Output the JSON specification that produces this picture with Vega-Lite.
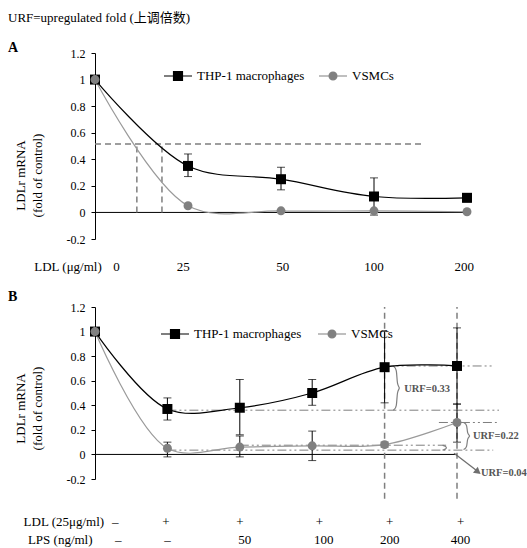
{
  "$schema": "https://vega.github.io/schema/vega-lite/v6.json",
  "padding": {"left": 8, "top": 12, "right": 0, "bottom": 0},
  "config": {
    "view": {"stroke": null},
    "font": "Liberation Serif",
    "axisY": {"labelExpr": "replace(format(datum.value, '.1~f'), '\u2212', '-')", "tickCount": 7, "labelFont": "Liberation Serif", "labelFontSize": 12, "labelColor": "#000", "tickColor": "#000", "domainColor": "#000", "tickSize": 4, "labelPadding": 6, "titleFont": "Liberation Serif", "titleFontSize": 13, "titleFontWeight": "normal", "titleColor": "#000", "titlePadding": 22, "grid": false, "titleLineHeight": 17, "labelFlush": false, "labelOverlap": false},
    "legend": {"title": null, "orient": "none", "direction": "horizontal", "padding": 0, "labelOffset": 4, "symbolSize": 784, "symbolStrokeWidth": 1.2, "labelFont": "Liberation Serif", "labelFontSize": 13, "labelColor": "#000", "labelLimit": 0}
  },
  "title": {"text": "URF=upregulated fold (上调倍数)", "anchor": "start", "frame": "bounds", "font": "Liberation Serif, Noto Sans CJK SC", "fontSize": 13, "fontWeight": "normal", "color": "#000", "offset": 16},
  "spacing": 16,
  "resolve": {"scale": {"color": "independent", "fill": "independent", "x": "independent", "y": "independent"}, "legend": {"color": "independent", "fill": "independent"}},
  "datasets": {
    "A": [
      {"x": 0, "series": "THP-1 macrophages", "y": 1},
      {"x": 1, "series": "THP-1 macrophages", "y": 0.35, "lo": 0.27, "hi": 0.44},
      {"x": 2, "series": "THP-1 macrophages", "y": 0.25, "lo": 0.17, "hi": 0.34},
      {"x": 3, "series": "THP-1 macrophages", "y": 0.12, "lo": -0.02, "hi": 0.26},
      {"x": 4, "series": "THP-1 macrophages", "y": 0.11, "lo": 0.08, "hi": 0.14},
      {"x": 0, "series": "VSMCs", "y": 1},
      {"x": 1, "series": "VSMCs", "y": 0.05},
      {"x": 2, "series": "VSMCs", "y": 0.012},
      {"x": 3, "series": "VSMCs", "y": 0.012},
      {"x": 4, "series": "VSMCs", "y": 0.005}
    ],
    "B": [
      {"x": 0, "series": "THP-1 macrophages", "y": 1},
      {"x": 1, "series": "THP-1 macrophages", "y": 0.37, "lo": 0.28, "hi": 0.46},
      {"x": 2, "series": "THP-1 macrophages", "y": 0.38, "lo": 0.16, "hi": 0.61},
      {"x": 3, "series": "THP-1 macrophages", "y": 0.5, "lo": 0.4, "hi": 0.61},
      {"x": 4, "series": "THP-1 macrophages", "y": 0.71, "lo": 0.42, "hi": 1.0},
      {"x": 5, "series": "THP-1 macrophages", "y": 0.72, "lo": 0.41, "hi": 1.03},
      {"x": 0, "series": "VSMCs", "y": 1},
      {"x": 1, "series": "VSMCs", "y": 0.05, "lo": -0.02, "hi": 0.1},
      {"x": 2, "series": "VSMCs", "y": 0.06, "lo": -0.02, "hi": 0.15},
      {"x": 3, "series": "VSMCs", "y": 0.07, "lo": -0.05, "hi": 0.19},
      {"x": 4, "series": "VSMCs", "y": 0.08, "lo": 0.06, "hi": 0.1},
      {"x": 5, "series": "VSMCs", "y": 0.26, "lo": 0.1, "hi": 0.41}
    ]
  },
  "vconcat": [
    {
      "width": 372,
      "height": 186,
      "title": {"text": "A", "anchor": "start", "frame": "bounds", "fontSize": 14, "fontWeight": "bold", "color": "#000", "offset": -8, "dx": -6},
      "data": {"name": "A"},
      "layer": [
        {
          "data": {"values": [{"x": 0, "x2": 4, "y": 0}]},
          "mark": {"type": "rule", "color": "#000", "strokeWidth": 1},
          "encoding": {
            "x": {"field": "x", "type": "quantitative", "scale": {"domain": [0, 4], "nice": false, "zero": false}, "axis": null},
            "x2": {"field": "x2"},
            "y": {"field": "y", "type": "quantitative", "scale": {"domain": [-0.2, 1.2], "nice": false, "zero": false}, "title": ["LDLr mRNA", "(fold of control)"], "axis": {"titleY": 122}}
          }
        },
        {
          "data": {"values": [{"x": 0, "x2": 3.53, "y": 0.515, "y2": 0.515}, {"x": 0.45, "x2": 0.45, "y": 0, "y2": 0.515}, {"x": 0.72, "x2": 0.72, "y": 0, "y2": 0.515}]},
          "mark": {"type": "rule", "color": "#7f7f7f", "strokeDash": [6, 4], "strokeWidth": 1.5},
          "encoding": {
            "x": {"field": "x", "type": "quantitative", "scale": {"domain": [0, 4], "nice": false, "zero": false}, "axis": null},
            "x2": {"field": "x2"},
            "y": {"field": "y", "type": "quantitative", "scale": {"domain": [-0.2, 1.2], "nice": false, "zero": false}, "title": ["LDLr mRNA", "(fold of control)"]},
            "y2": {"field": "y2"}
          }
        },
        {
          "transform": [{"filter": "isValid(datum.lo)"}],
          "mark": {"type": "errorbar", "ticks": {"size": 8, "color": "#000"}, "color": "#000", "thickness": 1},
          "encoding": {
            "x": {"field": "x", "type": "quantitative", "scale": {"domain": [0, 4], "nice": false, "zero": false}, "axis": null},
            "y": {"field": "lo", "type": "quantitative", "scale": {"domain": [-0.2, 1.2], "nice": false, "zero": false}, "title": ["LDLr mRNA", "(fold of control)"]},
            "y2": {"field": "hi"}
          }
        },
        {
          "mark": {"type": "line", "interpolate": "catmull-rom", "strokeWidth": 1.2},
          "encoding": {
            "x": {"field": "x", "type": "quantitative", "scale": {"domain": [0, 4], "nice": false, "zero": false}, "axis": null},
            "y": {"field": "y", "type": "quantitative", "scale": {"domain": [-0.2, 1.2], "nice": false, "zero": false}, "title": ["LDLr mRNA", "(fold of control)"]},
            "detail": {"field": "series"},
            "color": {"condition": {"test": "datum.series === 'VSMCs'", "value": "#9a9a9a"}, "value": "#000"}
          }
        },
        {
          "transform": [{"filter": "datum.series === 'THP-1 macrophages'"}],
          "mark": {"type": "point", "shape": "square", "filled": true, "opacity": 1, "size": 100},
          "encoding": {
            "x": {"field": "x", "type": "quantitative", "scale": {"domain": [0, 4], "nice": false, "zero": false}, "axis": null},
            "y": {"field": "y", "type": "quantitative", "scale": {"domain": [-0.2, 1.2], "nice": false, "zero": false}, "title": ["LDLr mRNA", "(fold of control)"]},
            "color": {"field": "series", "type": "nominal", "scale": {"domain": ["THP-1 macrophages"], "range": ["#000000"]},
              "legend": {"legendX": 68, "legendY": 8, "symbolType": "M-1,0H1M-0.32,-0.32H0.32V0.32H-0.32Z", "symbolStrokeColor": "#000000", "symbolFillColor": "#000000"}}
          }
        },
        {
          "transform": [{"filter": "datum.series === 'VSMCs'"}],
          "mark": {"type": "point", "shape": "circle", "filled": true, "opacity": 1, "size": 80},
          "encoding": {
            "x": {"field": "x", "type": "quantitative", "scale": {"domain": [0, 4], "nice": false, "zero": false}, "axis": null},
            "y": {"field": "y", "type": "quantitative", "scale": {"domain": [-0.2, 1.2], "nice": false, "zero": false}, "title": ["LDLr mRNA", "(fold of control)"]},
            "fill": {"field": "series", "type": "nominal", "scale": {"domain": ["VSMCs"], "range": ["#808080"]},
              "legend": {"legendX": 223, "legendY": 8, "symbolType": "M-1,0H1M-0.28,0A0.28,0.28,0,1,0,0.28,0A0.28,0.28,0,1,0,-0.28,0Z", "symbolStrokeColor": "#808080", "symbolFillColor": "#808080"}}
          }
        },
        {
          "data": {"values": [{"x": -0.29, "t": "LDL (μg/ml)"}, {"x": 0.23, "t": "0"}, {"x": 0.95, "t": "25"}, {"x": 2.02, "t": "50"}, {"x": 3.0, "t": "100"}, {"x": 3.97, "t": "200"}]},
          "mark": {"type": "text", "fontSize": 13, "color": "#000", "baseline": "middle", "align": "center"},
          "encoding": {
            "x": {"field": "x", "type": "quantitative", "scale": {"domain": [0, 4], "nice": false, "zero": false}, "axis": null},
            "y": {"datum": -0.41, "type": "quantitative", "scale": {"domain": [-0.2, 1.2], "nice": false, "zero": false}, "title": ["LDLr mRNA", "(fold of control)"]},
            "text": {"field": "t"}
          }
        }
      ]
    },
    {
      "width": 362,
      "height": 172,
      "title": {"text": "B", "anchor": "start", "frame": "bounds", "fontSize": 14, "fontWeight": "bold", "color": "#000", "offset": -3, "dx": -6},
      "data": {"name": "B"},
      "layer": [
        {
          "data": {"values": [{"x": 0, "x2": 5, "y": 0}]},
          "mark": {"type": "rule", "color": "#000", "strokeWidth": 1},
          "encoding": {
            "x": {"field": "x", "type": "quantitative", "scale": {"domain": [0, 5], "nice": false, "zero": false}, "axis": null},
            "x2": {"field": "x2"},
            "y": {"field": "y", "type": "quantitative", "scale": {"domain": [-0.2, 1.2], "nice": false, "zero": false}, "title": ["LDLr mRNA", "(fold of control)"], "axis": {"titleY": 101}}
          }
        },
        {
          "data": {"values": [{"x": 4, "x2": 4, "y": -0.36, "y2": 1.2}, {"x": 5, "x2": 5, "y": -0.36, "y2": 1.2}]},
          "mark": {"type": "rule", "color": "#7f7f7f", "strokeDash": [6, 4], "strokeWidth": 1.5},
          "encoding": {
            "x": {"field": "x", "type": "quantitative", "scale": {"domain": [0, 5], "nice": false, "zero": false}, "axis": null},
            "x2": {"field": "x2"},
            "y": {"field": "y", "type": "quantitative", "scale": {"domain": [-0.2, 1.2], "nice": false, "zero": false}, "title": ["LDLr mRNA", "(fold of control)"]},
            "y2": {"field": "y2"}
          }
        },
        {
          "data": {"values": [{"x": 1, "x2": 5.58, "y": 0.36, "y2": 0.36}, {"x": 4, "x2": 5.48, "y": 0.72, "y2": 0.72}, {"x": 4.75, "x2": 5.55, "y": 0.26, "y2": 0.26}, {"x": 1, "x2": 5.5, "y": 0.035, "y2": 0.035}, {"x": 2, "x2": 4.85, "y": 0.075, "y2": 0.075}]},
          "mark": {"type": "rule", "color": "#7f7f7f", "strokeDash": [9, 3, 2, 3, 2, 3], "strokeWidth": 1},
          "encoding": {
            "x": {"field": "x", "type": "quantitative", "scale": {"domain": [0, 5], "nice": false, "zero": false}, "axis": null},
            "x2": {"field": "x2"},
            "y": {"field": "y", "type": "quantitative", "scale": {"domain": [-0.2, 1.2], "nice": false, "zero": false}, "title": ["LDLr mRNA", "(fold of control)"]},
            "y2": {"field": "y2"}
          }
        },
        {
          "data": {"values": [
            {"g": 1, "k": 1, "x": 4.12, "y": 0.72}, {"g": 1, "k": 2, "x": 4.17, "y": 0.7}, {"g": 1, "k": 3, "x": 4.17, "y": 0.56}, {"g": 1, "k": 4, "x": 4.22, "y": 0.54}, {"g": 1, "k": 5, "x": 4.17, "y": 0.52}, {"g": 1, "k": 6, "x": 4.17, "y": 0.38}, {"g": 1, "k": 7, "x": 4.12, "y": 0.36},
            {"g": 2, "k": 1, "x": 5.09, "y": 0.26}, {"g": 2, "k": 2, "x": 5.14, "y": 0.245}, {"g": 2, "k": 3, "x": 5.14, "y": 0.165}, {"g": 2, "k": 4, "x": 5.19, "y": 0.15}, {"g": 2, "k": 5, "x": 5.14, "y": 0.135}, {"g": 2, "k": 6, "x": 5.14, "y": 0.055}, {"g": 2, "k": 7, "x": 5.09, "y": 0.04},
            {"g": 3, "k": 1, "x": 4.8, "y": 0.075}, {"g": 3, "k": 2, "x": 4.84, "y": 0.068}, {"g": 3, "k": 3, "x": 4.86, "y": 0.055}, {"g": 3, "k": 4, "x": 4.84, "y": 0.042}, {"g": 3, "k": 5, "x": 4.8, "y": 0.035}
          ]},
          "mark": {"type": "line", "interpolate": "basis", "color": "#7f7f7f", "strokeWidth": 1.2},
          "encoding": {
            "x": {"field": "x", "type": "quantitative", "scale": {"domain": [0, 5], "nice": false, "zero": false}, "axis": null},
            "y": {"field": "y", "type": "quantitative", "scale": {"domain": [-0.2, 1.2], "nice": false, "zero": false}, "title": ["LDLr mRNA", "(fold of control)"]},
            "detail": {"field": "g"},
            "order": {"field": "k"}
          }
        },
        {
          "data": {"values": [{"x": 4.96, "x2": 5.27, "y": 0.01, "y2": -0.13}]},
          "mark": {"type": "rule", "color": "#6f6f6f", "strokeWidth": 1.3},
          "encoding": {
            "x": {"field": "x", "type": "quantitative", "scale": {"domain": [0, 5], "nice": false, "zero": false}, "axis": null},
            "x2": {"field": "x2"},
            "y": {"field": "y", "type": "quantitative", "scale": {"domain": [-0.2, 1.2], "nice": false, "zero": false}, "title": ["LDLr mRNA", "(fold of control)"]},
            "y2": {"field": "y2"}
          }
        },
        {
          "data": {"values": [{"x": 5.29, "y": -0.142}]},
          "mark": {"type": "point", "shape": "triangle-up", "filled": true, "color": "#6f6f6f", "size": 60, "angle": 128, "opacity": 1},
          "encoding": {
            "x": {"field": "x", "type": "quantitative", "scale": {"domain": [0, 5], "nice": false, "zero": false}, "axis": null},
            "y": {"field": "y", "type": "quantitative", "scale": {"domain": [-0.2, 1.2], "nice": false, "zero": false}, "title": ["LDLr mRNA", "(fold of control)"]}
          }
        },
        {
          "transform": [{"filter": "isValid(datum.lo)"}],
          "mark": {"type": "errorbar", "ticks": {"size": 8, "color": "#000"}, "color": "#000", "thickness": 1},
          "encoding": {
            "x": {"field": "x", "type": "quantitative", "scale": {"domain": [0, 5], "nice": false, "zero": false}, "axis": null},
            "y": {"field": "lo", "type": "quantitative", "scale": {"domain": [-0.2, 1.2], "nice": false, "zero": false}, "title": ["LDLr mRNA", "(fold of control)"]},
            "y2": {"field": "hi"},
            "detail": {"field": "series"}
          }
        },
        {
          "mark": {"type": "line", "interpolate": "catmull-rom", "strokeWidth": 1.2},
          "encoding": {
            "x": {"field": "x", "type": "quantitative", "scale": {"domain": [0, 5], "nice": false, "zero": false}, "axis": null},
            "y": {"field": "y", "type": "quantitative", "scale": {"domain": [-0.2, 1.2], "nice": false, "zero": false}, "title": ["LDLr mRNA", "(fold of control)"]},
            "detail": {"field": "series"},
            "color": {"condition": {"test": "datum.series === 'VSMCs'", "value": "#9a9a9a"}, "value": "#000"}
          }
        },
        {
          "transform": [{"filter": "datum.series === 'THP-1 macrophages'"}],
          "mark": {"type": "point", "shape": "square", "filled": true, "opacity": 1, "size": 100},
          "encoding": {
            "x": {"field": "x", "type": "quantitative", "scale": {"domain": [0, 5], "nice": false, "zero": false}, "axis": null},
            "y": {"field": "y", "type": "quantitative", "scale": {"domain": [-0.2, 1.2], "nice": false, "zero": false}, "title": ["LDLr mRNA", "(fold of control)"]},
            "color": {"field": "series", "type": "nominal", "scale": {"domain": ["THP-1 macrophages"], "range": ["#000000"]},
              "legend": {"legendX": 65, "legendY": 12, "symbolType": "M-1,0H1M-0.32,-0.32H0.32V0.32H-0.32Z", "symbolStrokeColor": "#000000", "symbolFillColor": "#000000"}}
          }
        },
        {
          "transform": [{"filter": "datum.series === 'VSMCs'"}],
          "mark": {"type": "point", "shape": "circle", "filled": true, "opacity": 1, "size": 80},
          "encoding": {
            "x": {"field": "x", "type": "quantitative", "scale": {"domain": [0, 5], "nice": false, "zero": false}, "axis": null},
            "y": {"field": "y", "type": "quantitative", "scale": {"domain": [-0.2, 1.2], "nice": false, "zero": false}, "title": ["LDLr mRNA", "(fold of control)"]},
            "fill": {"field": "series", "type": "nominal", "scale": {"domain": ["VSMCs"], "range": ["#808080"]},
              "legend": {"legendX": 222, "legendY": 12, "symbolType": "M-1,0H1M-0.28,0A0.28,0.28,0,1,0,0.28,0A0.28,0.28,0,1,0,-0.28,0Z", "symbolStrokeColor": "#808080", "symbolFillColor": "#808080"}}
          }
        },
        {
          "data": {"values": [{"x": 4.27, "y": 0.53, "t": "URF=0.33"}, {"x": 5.22, "y": 0.15, "t": "URF=0.22"}, {"x": 5.33, "y": -0.155, "t": "URF=0.04"}]},
          "mark": {"type": "text", "fontSize": 10.5, "fontWeight": "bold", "color": "#555555", "align": "left", "baseline": "middle"},
          "encoding": {
            "x": {"field": "x", "type": "quantitative", "scale": {"domain": [0, 5], "nice": false, "zero": false}, "axis": null},
            "y": {"field": "y", "type": "quantitative", "scale": {"domain": [-0.2, 1.2], "nice": false, "zero": false}, "title": ["LDLr mRNA", "(fold of control)"]},
            "text": {"field": "t"}
          }
        },
        {
          "data": {"values": [{"x": -0.43, "t": "LDL (25μg/ml)"}, {"x": 0.28, "t": "–"}, {"x": 0.98, "t": "+"}, {"x": 2.0, "t": "+"}, {"x": 3.1, "t": "+"}, {"x": 4.07, "t": "+"}, {"x": 5.05, "t": "+"}]},
          "mark": {"type": "text", "fontSize": 13, "color": "#000", "baseline": "middle", "align": "center"},
          "encoding": {
            "x": {"field": "x", "type": "quantitative", "scale": {"domain": [0, 5], "nice": false, "zero": false}, "axis": null},
            "y": {"datum": -0.55, "type": "quantitative", "scale": {"domain": [-0.2, 1.2], "nice": false, "zero": false}, "title": ["LDLr mRNA", "(fold of control)"]},
            "text": {"field": "t"}
          }
        },
        {
          "data": {"values": [{"x": -0.48, "t": "LPS (ng/ml)"}, {"x": 0.32, "t": "–"}, {"x": 1.0, "t": "–"}, {"x": 2.07, "t": "50"}, {"x": 3.16, "t": "100"}, {"x": 4.07, "t": "200"}, {"x": 5.05, "t": "400"}]},
          "mark": {"type": "text", "fontSize": 13, "color": "#000", "baseline": "middle", "align": "center"},
          "encoding": {
            "x": {"field": "x", "type": "quantitative", "scale": {"domain": [0, 5], "nice": false, "zero": false}, "axis": null},
            "y": {"datum": -0.7, "type": "quantitative", "scale": {"domain": [-0.2, 1.2], "nice": false, "zero": false}, "title": ["LDLr mRNA", "(fold of control)"]},
            "text": {"field": "t"}
          }
        }
      ]
    }
  ]
}
